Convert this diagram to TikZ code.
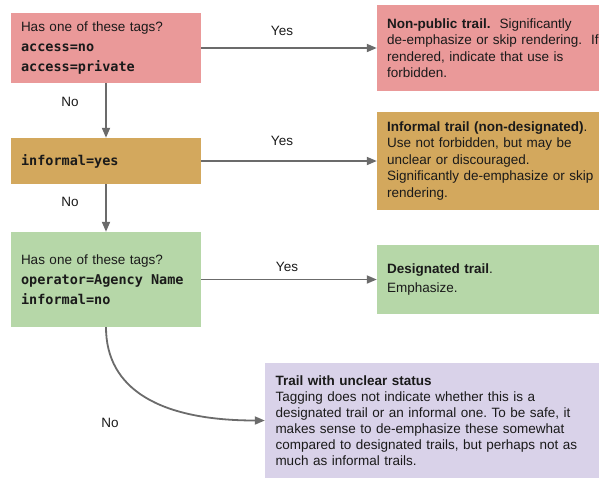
\documentclass[tikz,border=0pt]{standalone}
\usepackage{fontspec}
\setmainfont{Liberation Sans}
\setmonofont{DejaVu Sans Mono}
\usetikzlibrary{arrows.meta}
\frenchspacing
\definecolor{cred}{HTML}{EA9999}
\definecolor{ctan}{HTML}{D3A85D}
\definecolor{cgreen}{HTML}{B6D7A8}
\definecolor{cpurple}{HTML}{D9D2E9}
\definecolor{carrow}{HTML}{6B6B6B}
\definecolor{ctext}{HTML}{1A1A1A}
\tikzset{
  box/.style={rectangle, draw=none, inner xsep=10pt, inner ysep=0pt, align=left,
    font=\fontsize{13.5}{16.5}\selectfont, text=ctext},
  leftbox/.style={box, minimum width=190pt, text width=170pt,
    font=\fontsize{13.5}{20}\selectfont},
  rightbox/.style={box, minimum width=263pt, text width=243pt},
  arr/.style={draw=carrow, line width=1.8pt, -{Triangle[length=10pt,width=8pt]}},
  lbl/.style={font=\fontsize{13.5}{16}\selectfont, text=ctext, inner sep=0pt},
}
\newcommand{\mtag}[1]{{\ttfamily\bfseries #1}}
\newcommand{\msp}{\hspace{0.602em}}
\begin{document}
\begin{tikzpicture}[x=1pt,y=-1pt]
\useasboundingbox (0,0) rectangle (599,477);
\clip (0,0) rectangle (599,477);
% left decision boxes
\node[leftbox, fill=cred, minimum height=70pt] (b1) at (106,48)
  {Has one of these tags?\\\mtag{access=no}\\\mtag{access=private}};
\node[leftbox, fill=ctan, minimum height=46pt] (b2) at (106,161)
  {\mtag{informal=yes}};
\node[leftbox, fill=cgreen, minimum height=95pt] (b3) at (106,279.5)
  {Has one of these tags?\\\mtag{operator=Agency\msp Name}\\\mtag{informal=no}};
% right outcome boxes
\node[rightbox, fill=cred, minimum height=86pt] (r1) at (508.5,48)
  {\textbf{Non-public trail.}\ \ Significantly\\de-emphasize or skip rendering.\ \ If\\rendered, indicate that use is\\forbidden.};
\node[rightbox, fill=ctan, minimum height=98pt] (r2) at (508.5,161)
  {\textbf{Informal trail (non-designated)}.\\Use not forbidden, but may be\\unclear or discouraged.\\Significantly de-emphasize or skip\\rendering.};
\node[rightbox, fill=cgreen, minimum height=69pt] (r3) at (508.5,279.5)
  {\textbf{Designated trail}.\\[2.5pt]Emphasize.};
\node[box, fill=cpurple, minimum width=375pt, text width=354pt, inner xsep=10.5pt,
  minimum height=115pt, font=\fontsize{13.5}{16}\selectfont] (pu) at (452.5,420.5)
  {\textbf{Trail with unclear status}\\Tagging does not indicate whether this is a\\designated trail or an informal one. To be safe, it\\makes sense to de-emphasize these somewhat\\compared to designated trails, but perhaps not as\\much as informal trails.};
% connectors
\draw[arr] (b1.east) -- (r1.west);
\draw[arr] (b2.east) -- (r2.west);
\draw[arr] (b3.east) -- (r3.west);
\draw[arr] (b1.south) -- (b2.north);
\draw[arr] (b2.south) -- (b3.north);
\draw[arr] (b3.south) .. controls +(0,62) and +(-105,0) .. (pu.west);
% labels
\node[lbl] (y1) at (282,31) {Yes};
\node[lbl] (y2) at (282,141) {Yes};
\node[lbl] (y3) at (287,267) {Yes};
\node[lbl] (n1) at (70,102) {No};
\node[lbl] (n2) at (70,202) {No};
\node[lbl] (n3) at (110,423) {No};
\end{tikzpicture}
\end{document}
